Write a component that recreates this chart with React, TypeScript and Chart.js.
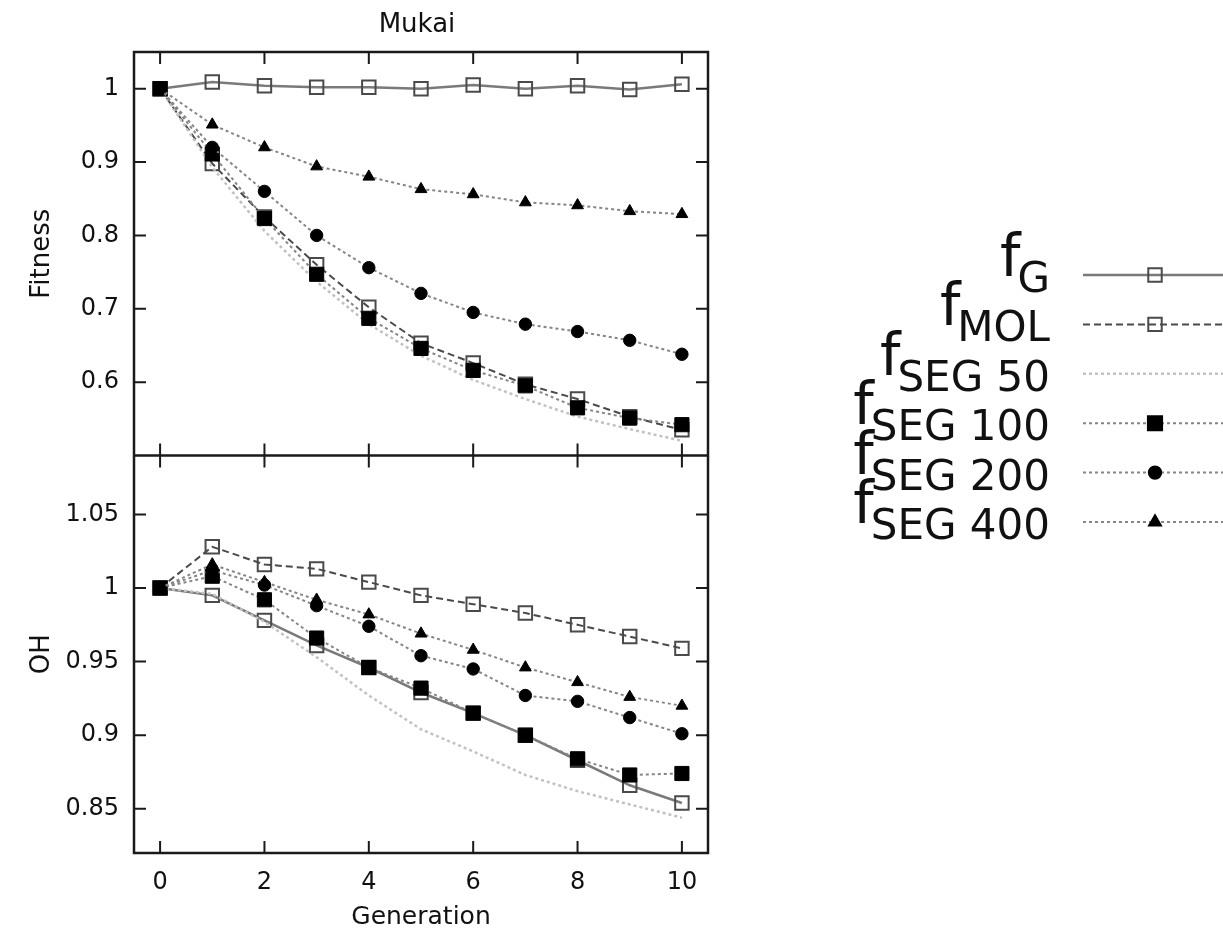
import React, { useEffect, useRef } from "react";
import { Chart, registerables } from "chart.js";

Chart.register(...registerables);

// Generations on the x axis
const generations = [0, 1, 2, 3, 4, 5, 6, 7, 8, 9, 10];

// Legend subscripts (label text is "f" + subscript)
const seriesNames = ["G", "MOL", "SEG 50", "SEG 100", "SEG 200", "SEG 400"];

// Fitness (upper panel)
const fitnessG = [1, 1.009, 1.004, 1.002, 1.002, 1.0, 1.005, 1.0, 1.004, 0.999, 1.006];
const fitnessMOL = [1, 0.898, 0.825, 0.76, 0.702, 0.653, 0.626, 0.597, 0.577, 0.553, 0.535];
const fitnessSEG50 = [1, 0.893, 0.806, 0.737, 0.679, 0.636, 0.603, 0.577, 0.553, 0.536, 0.52];
const fitnessSEG100 = [1, 0.911, 0.823, 0.747, 0.687, 0.646, 0.616, 0.595, 0.565, 0.551, 0.542];
const fitnessSEG200 = [1, 0.92, 0.86, 0.8, 0.756, 0.721, 0.695, 0.679, 0.669, 0.657, 0.638];
const fitnessSEG400 = [1, 0.951, 0.92, 0.894, 0.88, 0.863, 0.856, 0.845, 0.841, 0.833, 0.829];

// OH (lower panel)
const ohG = [1, 0.995, 0.978, 0.961, 0.946, 0.929, 0.915, 0.9, 0.883, 0.866, 0.854];
const ohMOL = [1, 1.028, 1.016, 1.013, 1.004, 0.995, 0.989, 0.983, 0.975, 0.967, 0.959];
const ohSEG50 = [1, 0.996, 0.977, 0.953, 0.927, 0.904, 0.889, 0.873, 0.862, 0.853, 0.844];
const ohSEG100 = [1, 1.008, 0.992, 0.966, 0.946, 0.932, 0.915, 0.9, 0.884, 0.873, 0.874];
const ohSEG200 = [1, 1.012, 1.002, 0.988, 0.974, 0.954, 0.945, 0.927, 0.923, 0.912, 0.901];
const ohSEG400 = [1, 1.016, 1.004, 0.992, 0.982, 0.969, 0.958, 0.946, 0.936, 0.926, 0.92];

// Tick labels
const xTicks = [0, 2, 4, 6, 8, 10];
const fitnessTicks = [0.6, 0.7, 0.8, 0.9, 1];
const ohTicks = [0.85, 0.9, 0.95, 1, 1.05];

const fitnessSeries = [fitnessG, fitnessMOL, fitnessSEG50, fitnessSEG100, fitnessSEG200, fitnessSEG400];
const ohSeries = [ohG, ohMOL, ohSEG50, ohSEG100, ohSEG200, ohSEG400];

type SeriesStyle = {
  line: string;
  width: number;
  dash: number[];
  marker: "rect" | "circle" | "triangle" | null;
  fill: string;
  stroke: string;
  radius: number;
};

const seriesStyles: SeriesStyle[] = [
  { line: "#7a7a7a", width: 2.5, dash: [], marker: "rect", fill: "rgba(0,0,0,0)", stroke: "#4a4a4a", radius: 9.5 },
  { line: "#4a4a4a", width: 2, dash: [7, 4], marker: "rect", fill: "rgba(0,0,0,0)", stroke: "#4a4a4a", radius: 9.5 },
  { line: "#c2c2c2", width: 2.5, dash: [3, 3], marker: null, fill: "#000", stroke: "#000", radius: 0 },
  { line: "#858585", width: 2, dash: [3, 3], marker: "rect", fill: "#000", stroke: "#000", radius: 10 },
  { line: "#858585", width: 2, dash: [3, 3], marker: "circle", fill: "#000", stroke: "#000", radius: 6.2 },
  { line: "#858585", width: 2, dash: [3, 3], marker: "triangle", fill: "#000", stroke: "#000", radius: 6.8 },
];

const FONT = "'DejaVu Sans', sans-serif";
const TEXT = "#111";

function makeDatasets() {
  const sets: any[] = [];
  const panels: [string, number[][]][] = [
    ["yFit", fitnessSeries],
    ["yOH", ohSeries],
  ];
  panels.forEach(([axis, series]) => {
    series.forEach((values, i) => {
      const s = seriesStyles[i];
      sets.push({
        label: "f " + seriesNames[i],
        data: generations.map((g, k) => ({ x: g, y: values[k] })),
        yAxisID: axis,
        xAxisID: "x",
        borderColor: s.line,
        borderWidth: s.width,
        borderDash: s.dash,
        pointStyle: s.marker || "circle",
        pointRadius: s.marker ? s.radius : 0,
        pointBackgroundColor: s.fill,
        pointBorderColor: s.stroke,
        pointBorderWidth: s.marker === "rect" && s.fill !== "#000" ? 2 : 1,
        tension: 0,
        fill: false,
        order: 20 - i,
      });
    });
  });
  return sets;
}

function drawMarker(ctx: CanvasRenderingContext2D, s: SeriesStyle, x: number, y: number) {
  if (!s.marker) return;
  ctx.save();
  ctx.setLineDash([]);
  ctx.fillStyle = s.fill;
  ctx.strokeStyle = s.stroke;
  ctx.lineWidth = 2;
  ctx.beginPath();
  if (s.marker === "rect") {
    const h = s.radius * Math.SQRT1_2;
    ctx.rect(x - h, y - h, 2 * h, 2 * h);
  } else if (s.marker === "circle") {
    ctx.arc(x, y, s.radius, 0, Math.PI * 2);
  } else {
    const r = s.radius;
    ctx.moveTo(x, y - r);
    ctx.lineTo(x + r * 0.866, y + r * 0.5);
    ctx.lineTo(x - r * 0.866, y + r * 0.5);
    ctx.closePath();
  }
  ctx.fill();
  ctx.stroke();
  ctx.restore();
}

// Frame, inward ticks on every side of both panels, title and legend
const decorations = {
  id: "panelDecorations",
  afterDatasetsDraw(chart: any) {
    const { ctx, chartArea: a, scales } = chart;
    const x = scales.x;
    const panels = [
      { scale: scales.yFit, ticks: fitnessTicks },
      { scale: scales.yOH, ticks: ohTicks },
    ];
    ctx.save();
    ctx.strokeStyle = "#1a1a1a";
    ctx.lineWidth = 2.5;
    ctx.setLineDash([]);
    ctx.strokeRect(a.left, a.top, a.right - a.left, a.bottom - a.top);
    const sep = scales.yFit.bottom;
    ctx.beginPath();
    ctx.moveTo(a.left, sep);
    ctx.lineTo(a.right, sep);
    ctx.stroke();

    const tl = 12;
    ctx.lineWidth = 2;
    panels.forEach(({ scale, ticks }) => {
      ctx.beginPath();
      xTicks.forEach((v) => {
        const px = x.getPixelForValue(v);
        ctx.moveTo(px, scale.top);
        ctx.lineTo(px, scale.top + tl);
        ctx.moveTo(px, scale.bottom);
        ctx.lineTo(px, scale.bottom - tl);
      });
      ticks.forEach((v) => {
        const py = scale.getPixelForValue(v);
        ctx.moveTo(a.left, py);
        ctx.lineTo(a.left + tl, py);
        ctx.moveTo(a.right, py);
        ctx.lineTo(a.right - tl, py);
      });
      ctx.stroke();
    });

    // Title
    ctx.fillStyle = TEXT;
    ctx.font = `26px ${FONT}`;
    ctx.textAlign = "center";
    ctx.textBaseline = "middle";
    ctx.fillText("Mukai", (a.left + a.right) / 2 - 4, 25);

    // Legend
    const rowTop = 275;
    const rowGap = 49.4;
    const subRight = 1050;
    const sampleStart = 1083;
    const sampleEnd = 1223;
    const markerX = 1155;
    seriesNames.forEach((name, i) => {
      const y = rowTop + i * rowGap;
      const s = seriesStyles[i];
      ctx.font = `42px ${FONT}`;
      ctx.textAlign = "right";
      ctx.textBaseline = "alphabetic";
      ctx.fillText(name, subRight, y + 17);
      const subW = ctx.measureText(name).width;
      ctx.font = `58px ${FONT}`;
      ctx.fillText("f", subRight - subW + 3, y + 1);

      ctx.beginPath();
      ctx.strokeStyle = s.line;
      ctx.lineWidth = s.width;
      ctx.setLineDash(s.dash);
      ctx.moveTo(sampleStart, y);
      ctx.lineTo(sampleEnd, y);
      ctx.stroke();
      ctx.setLineDash([]);
      drawMarker(ctx, s, markerX, y);
    });
    ctx.restore();
  },
};

export default function App() {
  const canvasRef = useRef<HTMLCanvasElement | null>(null);

  useEffect(() => {
    const canvas = canvasRef.current;
    if (!canvas) return;
    const tickFont = { family: FONT, size: 24 };
    const chart = new Chart(canvas, {
      type: "line",
      data: { datasets: makeDatasets() },
      options: {
        animation: false,
        responsive: false,
        maintainAspectRatio: false,
        layout: { padding: { top: 52, right: 515, bottom: 0, left: 0 } },
        plugins: {
          legend: { display: false },
          tooltip: { enabled: false },
          title: { display: false },
        },
        scales: {
          x: {
            type: "linear",
            position: "bottom",
            min: -0.5,
            max: 10.5,
            grid: { display: false, drawTicks: false },
            border: { display: false },
            afterBuildTicks: (s: any) => {
              s.ticks = xTicks.map((v) => ({ value: v }));
            },
            afterFit: (s: any) => {
              s.height = 79;
            },
            ticks: { font: tickFont, color: TEXT, padding: 15, maxRotation: 0, autoSkip: false },
            title: { display: true, text: "Generation", font: { family: FONT, size: 25 }, color: TEXT, padding: 0 },
          },
          // the stack is laid out bottom-up: OH panel first, Fitness panel above it
          yOH: {
            type: "linear",
            position: "left",
            stack: "panels",
            stackWeight: 398,
            min: 0.82,
            max: 1.09,
            grid: { display: false, drawTicks: false },
            border: { display: false },
            afterBuildTicks: (s: any) => {
              s.ticks = ohTicks.map((v) => ({ value: v }));
            },
            afterFit: (s: any) => {
              s.width = 134;
            },
            ticks: { font: tickFont, color: TEXT, padding: 15, autoSkip: false, callback: (v: any) => String(v) },
            title: { display: true, text: "OH", font: { family: FONT, size: 26 }, color: TEXT, padding: 27 },
          },
          yFit: {
            type: "linear",
            position: "left",
            stack: "panels",
            stackWeight: 404,
            min: 0.5,
            max: 1.05,
            grid: { display: false, drawTicks: false },
            border: { display: false },
            afterBuildTicks: (s: any) => {
              s.ticks = fitnessTicks.map((v) => ({ value: v }));
            },
            afterFit: (s: any) => {
              s.width = 134;
            },
            ticks: { font: tickFont, color: TEXT, padding: 15, autoSkip: false, callback: (v: any) => String(v) },
            title: { display: true, text: "Fitness", font: { family: FONT, size: 26 }, color: TEXT, padding: 27 },
          },
        },
      },
      plugins: [decorations],
    } as any);
    return () => chart.destroy();
  }, []);

  return (
    <div style={{ position: "absolute", left: 0, top: 0, width: 1223, height: 932, background: "#fff" }}>
      <canvas ref={canvasRef} width={1223} height={932} style={{ display: "block" }} />
    </div>
  );
}
